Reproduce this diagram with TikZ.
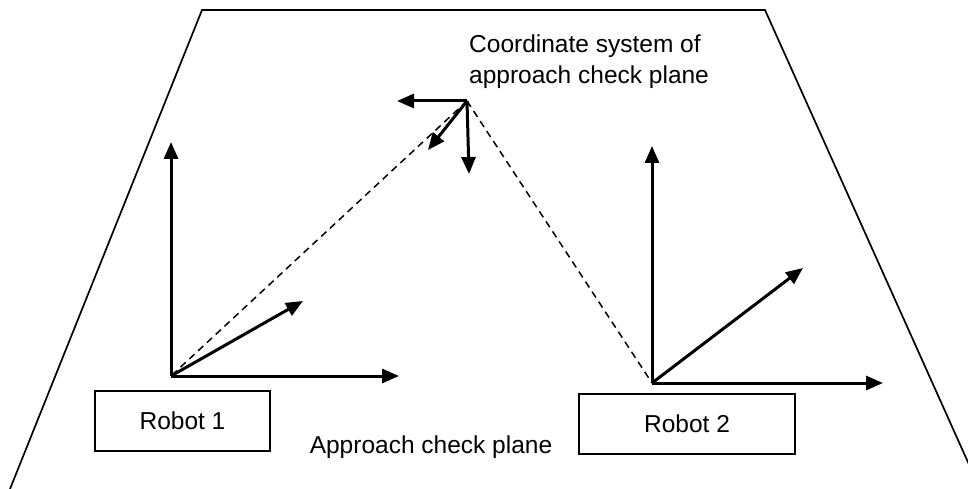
\documentclass[tikz,border=0pt]{standalone}
\usepackage{fontspec}
\setmainfont{Liberation Sans}
\usetikzlibrary{arrows.meta}
\begin{document}
\begin{tikzpicture}[x=1pt,y=-1pt,
  axis/.style={line width=3pt,-{Triangle[length=17pt,width=14pt]}},
  plane/.style={line width=1.7pt},
  dashline/.style={line width=1.5pt,dash pattern=on 7pt off 5pt},
  robotbox/.style={draw,line width=1.7pt,minimum width=175pt,minimum height=60pt,inner sep=0pt,font=\fontsize{24.5}{30}\selectfont},
  lbl/.style={inner sep=0pt,font=\fontsize{24.5}{30.5}\selectfont}]
\useasboundingbox (0,0) rectangle (968,489);
% approach check plane (trapezoid)
\coordinate (p1) at (10,489);
\coordinate (p2) at (202,10);
\coordinate (p3) at (765,10);
\coordinate (p4) at (980,489);
\draw[plane] (p1) -- (p2) -- (p3) -- (p4);
% origins
\coordinate (o1) at (171,376);
\coordinate (o2) at (652,383);
\coordinate (oc) at (467,101);
% dashed connections
\draw[dashline] (oc) -- (o1);
\draw[dashline] (oc) -- (o2);
% robot 1 axes
\coordinate (a1x) at (399,376);
\coordinate (a1y) at (171,142);
\coordinate (a1z) at (303,301);
\draw[axis] (o1) -- (a1x);
\draw[axis] (o1) -- (a1y);
\draw[axis] (o1) -- (a1z);
% robot 2 axes
\coordinate (a2x) at (883,383);
\coordinate (a2y) at (652,146);
\coordinate (a2z) at (803,268);
\draw[axis] (o2) -- (a2x);
\draw[axis] (o2) -- (a2y);
\draw[axis] (o2) -- (a2z);
% approach check plane coordinate system
\coordinate (acx) at (397,101);
\coordinate (acy) at (469,174);
\coordinate (acz) at (428,150);
\draw[axis] (oc) -- (acx);
\draw[axis] (oc) -- (acy);
\draw[axis] (oc) -- (acz);
% labels
\node[robotbox] (r1) at (182.5,421) {Robot 1};
\node[robotbox,minimum width=216pt] (r2) at (687,424) {Robot 2};
\node[lbl,anchor=base] (plane) at (431,453) {Approach check plane};
\node[lbl,anchor=north west,align=left] (cs) at (469,35) {Coordinate system of\\approach check plane};
\end{tikzpicture}
\end{document}
